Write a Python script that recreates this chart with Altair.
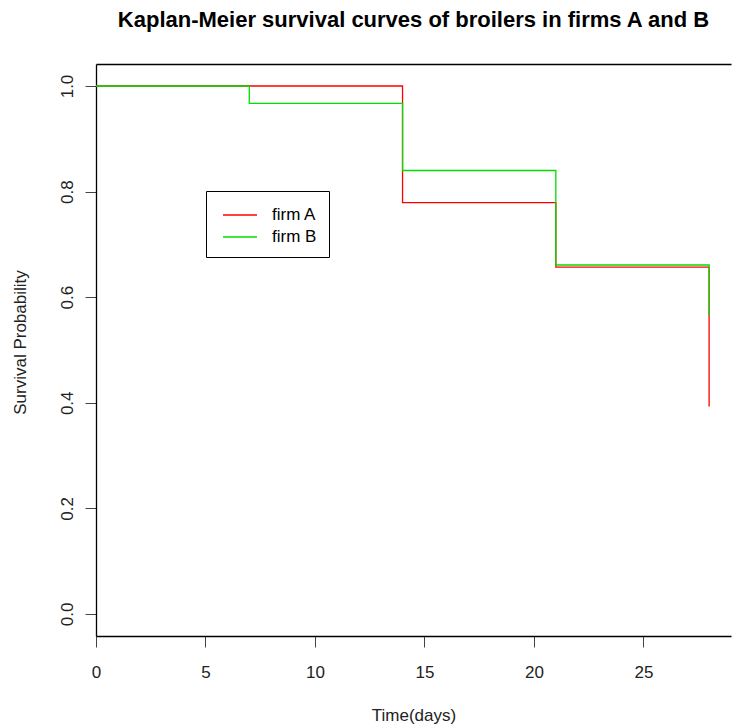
import altair as alt
import pandas as pd

# Kaplan-Meier step values
times_A = [0, 14, 21, 28]
surv_A = [1.0, 0.779, 0.657, 0.393]
times_B = [0, 7, 14, 21, 28]
surv_B = [1.0, 0.967, 0.840, 0.661, 0.565]
groups = ["firm A", "firm B"]
colors = ["#FF0000", "#00DD00"]
x_ticks = [0, 5, 10, 15, 20, 25]
y_ticks = [0.0, 0.2, 0.4, 0.6, 0.8, 1.0]

df = pd.concat([
    pd.DataFrame({"time": times_A, "surv": surv_A, "firm": groups[0], "ord": 0}),
    pd.DataFrame({"time": times_B, "surv": surv_B, "firm": groups[1], "ord": 1}),
], ignore_index=True)

FONT = "Liberation Sans"
W, H = 635, 572

xscale = alt.Scale(domain=[0, 29.0], nice=False, zero=False)
yscale = alt.Scale(domain=[-0.0417, 1.0417], nice=False, zero=False)

yaxis = alt.Axis(values=y_ticks, title="Survival Probability", format=".1f",
                 labelAngle=270, labelAlign="center", labelBaseline="alphabetic",
                 labelPadding=13, labelFlush=False, titleX=-76, titleY=278, titleAngle=270,
                 titleBaseline="middle", titleAlign="center")

lines = alt.Chart(df).mark_line(interpolate="step-after", strokeWidth=1.3).encode(
    x=alt.X("time:Q", scale=xscale,
            axis=alt.Axis(values=x_ticks, title="Time(days)", format="d",
                          labelFlush=False, titleY=79, titleBaseline="middle")),
    y=alt.Y("surv:Q", scale=yscale, axis=yaxis),
    color=alt.Color("firm:N", scale=alt.Scale(domain=groups, range=colors),
                    legend=alt.Legend(title=None, orient="none", legendX=110, legendY=127,
                                      symbolType="M-1.545,0H1.545", symbolSize=484,
                                      symbolStrokeWidth=1.3, symbolFillColor="transparent",
                                      labelFontSize=17,
                                      labelOffset=20, labelFont=FONT, labelColor="#000",
                                      strokeColor="black", fillColor="white",
                                      padding=12, symbolOffset=10, rowPadding=2,
                                      cornerRadius=0)),
    order=alt.Order("ord:Q"),
)

topaxis = alt.Chart(df).mark_point(opacity=0).encode(
    x=alt.X("time:Q", scale=xscale,
            axis=alt.Axis(orient="top", labels=False, ticks=False, title=None,
                          domain=True, domainColor="black", grid=False)),
    y=alt.Y("surv:Q", scale=yscale, axis=yaxis),
)

chart = alt.layer(lines, topaxis).resolve_axis(x="independent").properties(
    width=W, height=H,
    title=alt.Title("Kaplan-Meier survival curves of broilers in firms A and B",
                    fontSize=22, fontWeight="bold", font=FONT, color="#000",
                    anchor="middle", baseline="alphabetic", offset=15),
    padding={"left": 96, "top": 64, "right": 1, "bottom": 90},
    autosize=alt.AutoSizeParams(type="none"),
    background="white",
).configure_view(stroke=None).configure_axis(
    grid=False, domainColor="black", domainWidth=1.3, tickColor="#444", tickSize=11,
    tickWidth=1, labelFont=FONT, labelFontSize=17, labelColor="#222", labelPadding=17,
    titleFont=FONT, titleFontSize=17, titleFontWeight="normal", titleColor="#222",
)

chart.save("out.html", embed_options={"renderer": "svg", "actions": False})
